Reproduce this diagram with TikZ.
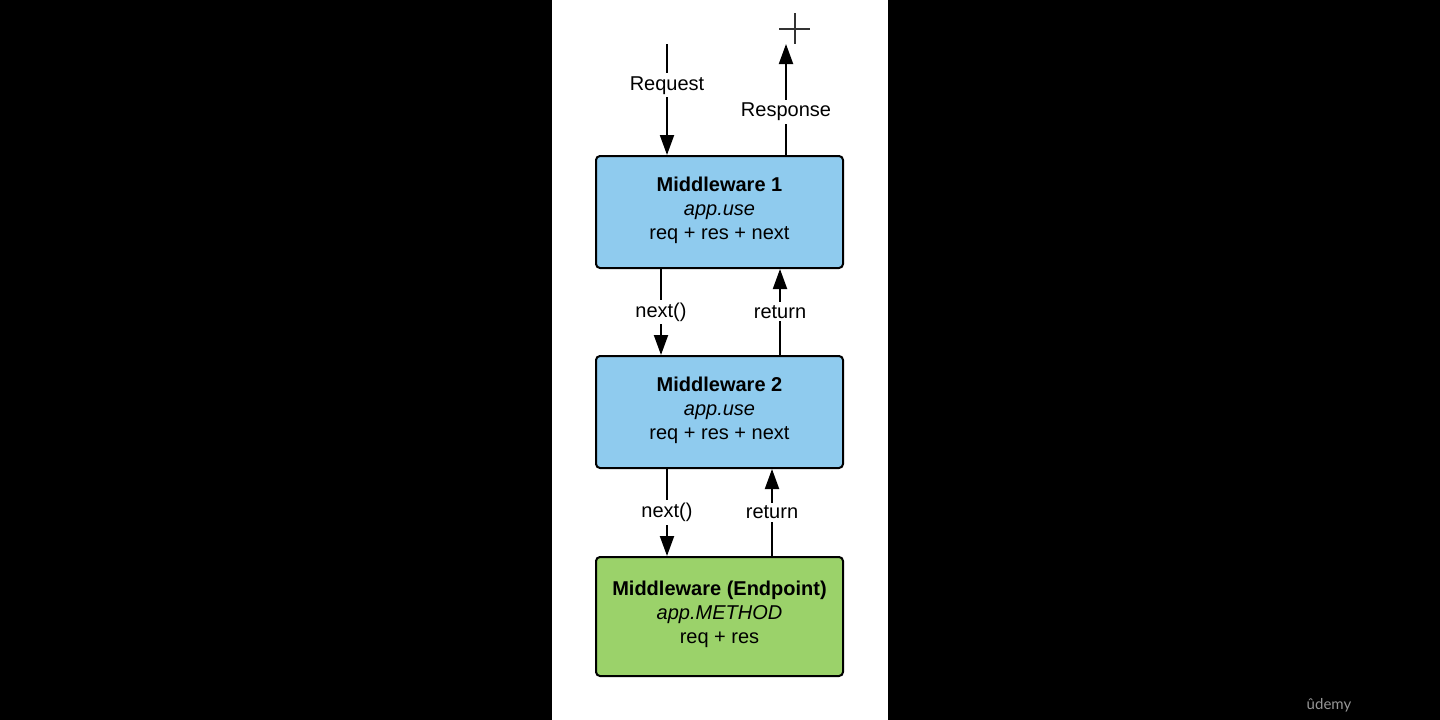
\documentclass[tikz,border=0pt]{standalone}
\usepackage{fontspec}
\setmainfont{Liberation Sans}
\newfontfamily\brandfont{Lato}
\usetikzlibrary{arrows.meta}

\definecolor{mwblue}{RGB}{143,203,238}
\definecolor{mwgreen}{RGB}{155,210,106}
\definecolor{brandgray}{RGB}{150,150,150}

\newcommand{\lowstrut}{\rule[-8pt]{0pt}{8pt}}

\tikzset{
  mwbox/.style={draw=black, line width=2pt, rounded corners=4pt,
    minimum width=247pt, minimum height=112pt, align=center,
    inner sep=0pt, font=\fontsize{20}{24}\selectfont},
  flow/.style={line width=2pt, -{Triangle[length=20pt,width=14pt]}},
  flowlabel/.style={fill=white, inner sep=3pt, yshift=-2.5pt,
    font=\fontsize{20}{24}\selectfont}
}

\begin{document}
\begin{tikzpicture}[x=1pt, y=-1pt]
  % page and white panel
  \fill[black] (0,0) rectangle (1440,720);
  \fill[white] (552,0) rectangle (888,720);
  \useasboundingbox (0,0) rectangle (1440,720);

  % middleware boxes
  \node[mwbox, fill=mwblue] (mw1) at (719.5,212)
    {\textbf{Middleware 1}\\\textit{app.use}\\req + res + next\lowstrut};
  \node[mwbox, fill=mwblue] (mw2) at (719.5,412)
    {\textbf{Middleware 2}\\\textit{app.use}\\req + res + next\lowstrut};
  \node[mwbox, fill=mwgreen, minimum height=119pt] (mw3) at (719.5,616.5)
    {\textbf{Middleware (Endpoint)}\\\textit{app.METHOD}\\req + res\lowstrut};

  % outer ends of request / response
  \coordinate (reqtop) at (667,44);
  \coordinate (restop) at (786,44);

  % column positions of the inner connectors
  \coordinate (n1) at (661,0);
  \coordinate (r1) at (780,0);
  \coordinate (n2) at (667,0);
  \coordinate (r2) at (772,0);

  % request and response
  \draw[flow] (reqtop) -- node[flowlabel, pos=0.35] {Request} (reqtop |- mw1.north);
  \draw[flow] (restop |- mw1.north) -- node[flowlabel, pos=0.41] {Response} (restop);

  % between middleware 1 and 2
  \draw[flow] (n1 |- mw1.south) -- node[flowlabel, pos=0.47] {next()} (n1 |- mw2.north);
  \draw[flow] (r1 |- mw2.north) -- node[flowlabel, pos=0.53] {return} (r1 |- mw1.south);

  % between middleware 2 and endpoint
  \draw[flow] (n2 |- mw2.south) -- node[flowlabel, pos=0.47] {next()} (n2 |- mw3.north);
  \draw[flow] (r2 |- mw3.north) -- node[flowlabel, pos=0.53] {return} (r2 |- mw2.south);

  % pointer crosshair
  \coordinate (cross) at (795,29);
  \draw[line width=1.5pt, black!80] ([xshift=-16pt]cross) -- ([xshift=15pt]cross);
  \draw[line width=1.5pt, black!80] ([yshift=16pt]cross) -- ([yshift=-15pt]cross);

  % brand mark
  \node[text=brandgray, font=\brandfont\fontsize{15}{17}\selectfont] (brand) at (1329,705) {ûdemy};
\end{tikzpicture}
\end{document}
